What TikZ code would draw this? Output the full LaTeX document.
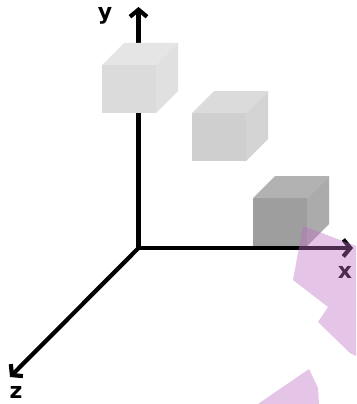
\documentclass[tikz,border=0pt]{standalone}
\usepackage{fontspec}
\setmainfont{DejaVu Sans}
\usetikzlibrary{arrows.meta}

\definecolor{tintpink}{RGB}{190,110,195}

\tikzset{
  axis/.style={line width=4.2pt, line cap=butt,
    -{Straight Barb[length=7pt,width=17pt,line width=4.2pt]}},
  axislabel/.style={font=\bfseries\fontsize{22}{22}\selectfont, inner sep=0pt},
  tint/.style={fill=tintpink, fill opacity=0.4},
  % a gray box seen from the front, top and right
  pics/box/.style n args={3}{code={
    \fill[#1] (0,0) rectangle (54,48);
    \fill[#2] (0,0) -- (22,-22) -- (76,-22) -- (54,0) -- cycle;
    \fill[#3] (54,0) -- (76,-22) -- (76,26) -- (54,48) -- cycle;
  }}
}

\begin{document}
\begin{tikzpicture}[x=1pt, y=-1pt]
  \useasboundingbox[fill=white] (0,0) rectangle (356,404);

  % axes
  \coordinate (O) at (138.5,248);
  \coordinate (Y) at (138.5,7);
  \coordinate (X) at (353,248);
  \coordinate (Z) at (10,377);
  \draw[axis] (O) -- (Y);
  \draw[axis] (O) -- (X);
  \draw[axis] (O) -- (Z);

  \node[axislabel] (ylab) at (105,16) {y};
  \node[axislabel] (xlab) at (345,272) {x};
  \node[axislabel] (zlab) at (16,392) {z};

  % boxes, light to dark
  \pic at (102,65)  {box={black!14}{black!10}{black!12}};
  \pic at (192,113) {box={black!19}{black!14}{black!17}};
  \pic at (253,198) {box={black!38}{black!30}{black!33}};

  % translucent tinted patches
  \fill[tint] (303,226) -- (356,246) -- (356,356) -- (350,353)
              -- (318,322) -- (328,307) -- (293,280) -- cycle;
  \fill[tint] (309,369) -- (318,388) -- (319,404) -- (258,404) -- cycle;
\end{tikzpicture}
\end{document}
